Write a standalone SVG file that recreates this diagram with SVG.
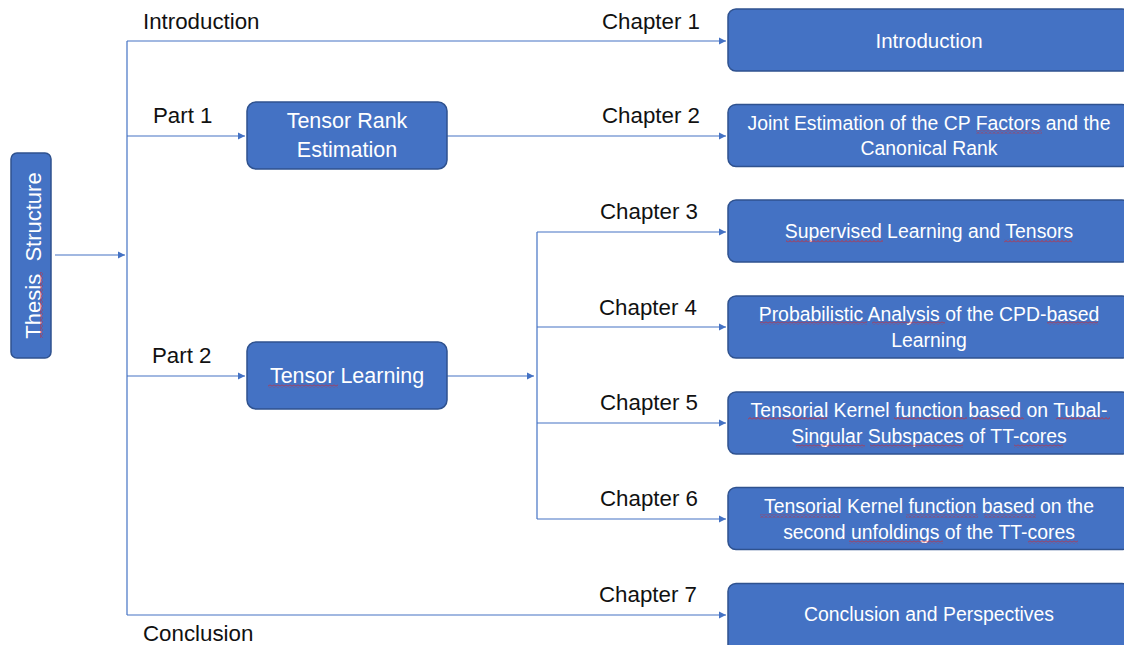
<svg xmlns="http://www.w3.org/2000/svg" width="1124" height="645" viewBox="0 0 1124 645">
<style>
.box{fill:#4472C4;stroke:#2F528F;stroke-width:1.5}
.bt{font-family:"Liberation Sans",Arial,sans-serif;font-size:19.4px;fill:#fff;text-anchor:middle}
.bt2{font-family:"Liberation Sans",Arial,sans-serif;font-size:21.5px;fill:#fff;text-anchor:middle}
.lb{font-family:"Liberation Sans",Arial,sans-serif;font-size:22.3px;fill:#111}
.cn{fill:none;stroke:#4472C4;stroke-width:1.2}
.sq{fill:url(#sqh)}
.sqv{fill:url(#sqv)}
</style>
<defs>
<marker id="ah" markerUnits="userSpaceOnUse" markerWidth="8" markerHeight="8" refX="7" refY="4" orient="auto">
<path d="M0,0.5 L7,4 L0,7.5 Z" fill="#4472C4"/>
</marker>
<pattern id="sqh" patternUnits="userSpaceOnUse" width="4" height="3">
<polyline points="0,2.5 2,0.5 4,2.5" fill="none" stroke="#e02020" stroke-width="0.8"/>
</pattern>
<pattern id="sqv" patternUnits="userSpaceOnUse" width="3" height="4">
<polyline points="2.5,0 0.5,2 2.5,4" fill="none" stroke="#e02020" stroke-width="0.8"/>
</pattern>
</defs>
<rect width="1124" height="645" fill="#fff"/>

<g id="connectors">
<path class="cn" d="M55,255 H125" marker-end="url(#ah)"/>
<path class="cn" d="M127,41 V615"/>
<path class="cn" d="M127,41 H726" marker-end="url(#ah)"/>
<path class="cn" d="M127,136 H245" marker-end="url(#ah)"/>
<path class="cn" d="M127,376 H245" marker-end="url(#ah)"/>
<path class="cn" d="M127,615 H726" marker-end="url(#ah)"/>
<path class="cn" d="M447,136 H726" marker-end="url(#ah)"/>
<path class="cn" d="M447,376 H534" marker-end="url(#ah)"/>
<path class="cn" d="M537,232 V519"/>
<path class="cn" d="M537,232 H726" marker-end="url(#ah)"/>
<path class="cn" d="M537,327 H726" marker-end="url(#ah)"/>
<path class="cn" d="M537,423 H726" marker-end="url(#ah)"/>
<path class="cn" d="M537,519 H726" marker-end="url(#ah)"/>
</g>

<g id="labels">
<text class="lb" x="143" y="29">Introduction</text>
<text class="lb" x="153" y="123">Part 1</text>
<text class="lb" x="152" y="363">Part 2</text>
<text class="lb" x="143" y="641">Conclusion</text>
<text class="lb" x="602" y="29">Chapter 1</text>
<text class="lb" x="602" y="123">Chapter 2</text>
<text class="lb" x="600" y="219">Chapter 3</text>
<text class="lb" x="599" y="315">Chapter 4</text>
<text class="lb" x="600" y="410">Chapter 5</text>
<text class="lb" x="600" y="506">Chapter 6</text>
<text class="lb" x="599" y="602">Chapter 7</text>
</g>

<g id="thesis">
<rect class="box" x="11" y="153" width="40" height="205" rx="6"/>
<text class="bt" style="white-space:pre;font-size:22px" transform="translate(40.5,255.5) rotate(-90)">Thesis  Structure</text>
<rect class="sqv" x="40" y="272" width="3" height="66"/>
</g>

<g id="rank">
<rect class="box" x="247" y="102" width="200" height="67" rx="9"/>
<text class="bt2" x="347" y="128">Tensor Rank</text>
<text class="bt2" x="347" y="157">Estimation</text>
</g>

<g id="learning">
<rect class="box" x="247" y="342" width="200" height="67" rx="9"/>
<text class="bt2" x="347" y="383">Tensor Learning</text>
<rect class="sq" x="268" y="384.5" width="70" height="3"/>
</g>

<g id="ch1">
<rect class="box" x="728" y="9" width="402" height="62" rx="8"/>
<text class="bt" x="929" y="48" style="font-size:20.5px">Introduction</text>
</g>

<g id="ch2">
<rect class="box" x="728" y="104.5" width="402" height="62" rx="8"/>
<text class="bt" x="929" y="130">Joint Estimation of the CP Factors and the</text>
<text class="bt" x="929" y="155">Canonical Rank</text>
<rect class="sq" x="976" y="130.5" width="66" height="3"/>
</g>

<g id="ch3">
<rect class="box" x="728" y="200" width="402" height="62" rx="8"/>
<text class="bt" x="929" y="238">Supervised Learning and Tensors</text>
<rect class="sq" x="786" y="239.5" width="97" height="3"/>
<rect class="sq" x="1004" y="239.5" width="68" height="3"/>
</g>

<g id="ch4">
<rect class="box" x="728" y="296" width="402" height="62" rx="8"/>
<text class="bt" x="929" y="321">Probabilistic Analysis of the CPD-based</text>
<text class="bt" x="929" y="347">Learning</text>
<rect class="sq" x="760" y="321.5" width="107" height="3"/>
<rect class="sq" x="872" y="321.5" width="73" height="3"/>
<rect class="sq" x="1047" y="321.5" width="51" height="3"/>
</g>

<g id="ch5">
<rect class="box" x="728" y="392" width="402" height="62" rx="8"/>
<text class="bt" x="929" y="417">Tensorial Kernel function based on Tubal-</text>
<text class="bt" x="929" y="443">Singular Subspaces of TT-cores</text>
<rect class="sq" x="748" y="417" width="79" height="3"/>
<rect class="sq" x="894" y="417" width="73" height="3"/>
<rect class="sq" x="972" y="417" width="52" height="3"/>
<rect class="sq" x="1056" y="417" width="54" height="3"/>
<rect class="sq" x="796" y="444.5" width="69" height="3"/>
<rect class="sq" x="870" y="444.5" width="93" height="3"/>
<rect class="sq" x="1014" y="444.5" width="49" height="3"/>
</g>

<g id="ch6">
<rect class="box" x="728" y="487.5" width="402" height="62" rx="8"/>
<text class="bt" x="929" y="513">Tensorial Kernel function based on the</text>
<text class="bt" x="929" y="539">second unfoldings of the TT-cores</text>
<rect class="sq" x="760" y="514.5" width="80" height="3"/>
<rect class="sq" x="906" y="514.5" width="72" height="3"/>
<rect class="sq" x="984" y="514.5" width="52" height="3"/>
<rect class="sq" x="849" y="540.5" width="94" height="3"/>
<rect class="sq" x="1028" y="540.5" width="50" height="3"/>
</g>

<g id="ch7">
<rect class="box" x="728" y="583.5" width="402" height="70" rx="8"/>
<text class="bt" x="929" y="621">Conclusion and Perspectives</text>
</g>
</svg>
